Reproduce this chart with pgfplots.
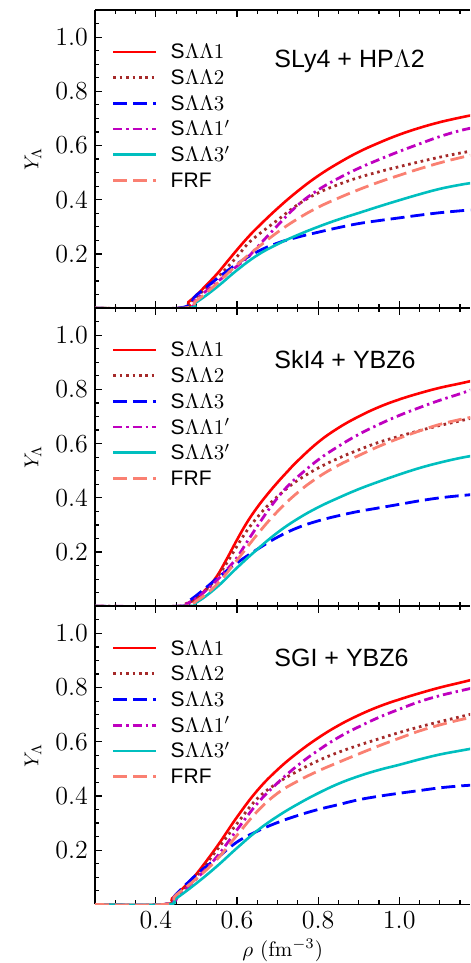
\RequirePackage{fix-cm}
\documentclass[border=0pt]{standalone}
\usepackage{fontspec}
\setsansfont{Liberation Sans}
\usepackage{pgfplots}
\pgfplotsset{compat=1.18}
\usepgfplotslibrary{groupplots}

\definecolor{cred}{rgb}{1,0,0}
\definecolor{cbrown}{HTML}{A52A2A}
\definecolor{cblue}{rgb}{0,0,1}
\definecolor{cmag}{rgb}{0.75,0,0.75}
\definecolor{ccyan}{rgb}{0,0.75,0.75}
\definecolor{csalmon}{HTML}{FA8072}

\pgfplotsset{
  s1/.style={cred, line width=1.3pt, smooth, tension=0.7},
  s2/.style={cbrown, line width=1.4pt, dash pattern=on 1.3pt off 1.9pt, smooth, tension=0.7},
  s3/.style={cblue, line width=1.4pt, dash pattern=on 7pt off 3pt, smooth, tension=0.7},
  s4/.style={cmag, line width=1.4pt, dash pattern=on 4.5pt off 2pt on 1.2pt off 2pt, smooth, tension=0.7},
  s5/.style={ccyan, line width=1.3pt, smooth, tension=0.7},
  s6/.style={csalmon, line width=1.4pt, dash pattern=on 7pt off 3pt, smooth, tension=0.7},
}
\newcommand{\legs}{\legend{\textsf{S}$\Lambda\Lambda1$,\textsf{S}$\Lambda\Lambda2$,\textsf{S}$\Lambda\Lambda3$,\textsf{S}$\Lambda\Lambda1'$,\textsf{S}$\Lambda\Lambda3'$,\textsf{FRF}}}

\begin{document}
\begin{tikzpicture}
\begin{groupplot}[
  group style={group size=1 by 3, vertical sep=0pt, x descriptions at=edge bottom},
  width=187.5pt, height=149pt, scale only axis,
  xmin=0.25, xmax=1.175, ymin=0, ymax=1.1,
  axis x line*=box, axis y line*=left,
  xtick={0.4,0.6,0.8,1.0},
  minor xtick={0.3,0.35,0.45,0.5,0.55,0.65,0.7,0.75,0.85,0.9,0.95,1.05,1.1,1.15},
  ytick={0.2,0.4,0.6,0.8,1.0},
  minor ytick={0.05,0.1,0.15,0.25,0.3,0.35,0.45,0.5,0.55,0.65,0.7,0.75,0.85,0.9,0.95,1.05},
  tick align=inside, major tick length=3.5pt, minor tick length=2pt,
  tick style={black, line width=0.6pt}, axis line style={black, line width=0.8pt},
  tick label style={font=\fontsize{13}{15}\selectfont},
  xticklabel style={/pgf/number format/.cd, fixed, fixed zerofill, precision=1},
  yticklabel style={/pgf/number format/.cd, fixed, fixed zerofill, precision=1},
  ylabel={$Y_\Lambda$},
  ylabel style={at={(axis description cs:-0.165,0.5)}, anchor=center, font=\fontsize{10}{12}\selectfont},
  xlabel={$\rho$ (fm$^{-3}$)},
  xlabel style={at={(axis description cs:0.5,-0.155)}, anchor=center, font=\fontsize{10.5}{12}\selectfont},
  legend image code/.code={\draw[#1] (0pt,0pt) -- (21.5pt,0pt);},
  legend cell align=left,
  legend style={at={(axis description cs:0.045,0.89)}, anchor=north west, draw=none, fill=none,
    inner sep=0pt, outer sep=0pt, font=\fontsize{10.5}{12}\selectfont, row sep=3.85pt,
    nodes={inner sep=0pt, text height=8pt, text depth=1pt},
    /tikz/every odd column/.append style={column sep=6.5pt}},
]
% ---- SLy4 + HPLambda2
\nextgroupplot
\coordinate (tl) at (rel axis cs:0,1);
\addplot[s1] coordinates {(0.25,0)(0.46,0)(0.48,0.022)(0.50,0.048)(0.52,0.078)(0.55,0.125)(0.575,0.17)(0.60,0.215)(0.625,0.258)(0.65,0.297)(0.70,0.368)(0.75,0.432)(0.80,0.488)(0.85,0.535)(0.90,0.576)(0.95,0.61)(1.00,0.64)(1.05,0.665)(1.10,0.686)(1.15,0.703)(1.18,0.712)};
\addplot[s2] coordinates {(0.25,0)(0.46,0)(0.48,0.018)(0.50,0.042)(0.55,0.11)(0.60,0.19)(0.625,0.235)(0.65,0.268)(0.70,0.325)(0.75,0.382)(0.80,0.425)(0.85,0.456)(0.90,0.482)(0.95,0.503)(1.00,0.522)(1.05,0.54)(1.10,0.557)(1.15,0.572)(1.18,0.58)};
\addplot[s3] coordinates {(0.25,0)(0.455,0)(0.50,0.048)(0.55,0.108)(0.60,0.163)(0.65,0.208)(0.70,0.24)(0.75,0.262)(0.80,0.28)(0.85,0.297)(0.90,0.312)(0.95,0.323)(1.00,0.333)(1.05,0.343)(1.10,0.352)(1.15,0.359)(1.18,0.363)};
\addplot[s4] coordinates {(0.25,0)(0.465,0)(0.50,0.035)(0.55,0.095)(0.60,0.155)(0.625,0.185)(0.65,0.225)(0.70,0.305)(0.75,0.38)(0.80,0.436)(0.85,0.479)(0.90,0.516)(0.95,0.548)(1.00,0.578)(1.05,0.606)(1.10,0.633)(1.15,0.655)(1.18,0.665)};
\addplot[s5] coordinates {(0.25,0)(0.47,0)(0.50,0.022)(0.55,0.077)(0.60,0.14)(0.65,0.195)(0.70,0.236)(0.75,0.27)(0.80,0.30)(0.85,0.327)(0.90,0.351)(0.95,0.375)(1.00,0.398)(1.05,0.42)(1.10,0.44)(1.15,0.455)(1.18,0.462)};
\addplot[s6] coordinates {(0.25,0)(0.465,0)(0.50,0.028)(0.55,0.09)(0.60,0.16)(0.65,0.222)(0.70,0.28)(0.75,0.33)(0.80,0.372)(0.85,0.406)(0.90,0.437)(0.95,0.465)(1.00,0.49)(1.05,0.514)(1.10,0.536)(1.15,0.555)(1.18,0.565)};
\legs
\node[anchor=west, font=\sffamily\fontsize{12.5}{15}\selectfont] at (axis cs:0.675,0.91) {SLy4 + HP$\Lambda$2};
% ---- SkI4 + YBZ6
\nextgroupplot
\addplot[s1] coordinates {(0.25,0)(0.46,0)(0.475,0.008)(0.50,0.03)(0.525,0.065)(0.55,0.11)(0.575,0.175)(0.60,0.245)(0.625,0.31)(0.65,0.365)(0.675,0.413)(0.70,0.457)(0.725,0.498)(0.75,0.537)(0.80,0.605)(0.85,0.658)(0.90,0.70)(0.95,0.735)(1.00,0.763)(1.05,0.786)(1.10,0.806)(1.15,0.822)(1.18,0.832)};
\addplot[s2] coordinates {(0.25,0)(0.46,0)(0.475,0.01)(0.50,0.028)(0.525,0.062)(0.55,0.105)(0.575,0.16)(0.60,0.222)(0.625,0.28)(0.65,0.328)(0.675,0.37)(0.70,0.405)(0.725,0.437)(0.75,0.465)(0.80,0.51)(0.85,0.546)(0.90,0.577)(0.95,0.605)(1.00,0.627)(1.05,0.648)(1.10,0.667)(1.15,0.684)(1.18,0.695)};
\addplot[s3] coordinates {(0.25,0)(0.455,0)(0.48,0.018)(0.52,0.064)(0.55,0.102)(0.60,0.16)(0.65,0.21)(0.70,0.255)(0.75,0.29)(0.80,0.315)(0.85,0.334)(0.90,0.35)(0.95,0.363)(1.00,0.376)(1.05,0.389)(1.10,0.40)(1.15,0.408)(1.18,0.412)};
\addplot[s4] coordinates {(0.25,0)(0.465,0)(0.475,0.008)(0.50,0.03)(0.525,0.06)(0.55,0.095)(0.575,0.135)(0.60,0.18)(0.625,0.238)(0.65,0.295)(0.675,0.35)(0.70,0.40)(0.725,0.443)(0.75,0.478)(0.80,0.54)(0.85,0.59)(0.90,0.634)(0.95,0.671)(1.00,0.704)(1.05,0.733)(1.10,0.76)(1.15,0.784)(1.18,0.80)};
\addplot[s5] coordinates {(0.25,0)(0.47,0)(0.50,0.014)(0.55,0.07)(0.60,0.142)(0.65,0.21)(0.70,0.272)(0.75,0.323)(0.80,0.365)(0.85,0.40)(0.90,0.432)(0.95,0.46)(1.00,0.486)(1.05,0.51)(1.10,0.53)(1.15,0.547)(1.18,0.555)};
\addplot[s6] coordinates {(0.25,0)(0.465,0)(0.50,0.02)(0.55,0.08)(0.60,0.17)(0.65,0.265)(0.70,0.35)(0.75,0.42)(0.80,0.476)(0.85,0.52)(0.90,0.556)(0.95,0.59)(1.00,0.62)(1.05,0.647)(1.10,0.671)(1.15,0.689)(1.18,0.698)};
\legs
\node[anchor=west, font=\sffamily\fontsize{12.5}{15}\selectfont] at (axis cs:0.675,0.91) {SkI4 + YBZ6};
% ---- SGI + YBZ6
\nextgroupplot
\coordinate (br) at (rel axis cs:1,0);
\addplot[s1] coordinates {(0.25,0)(0.42,0)(0.44,0.022)(0.46,0.05)(0.48,0.08)(0.50,0.112)(0.55,0.212)(0.60,0.322)(0.65,0.42)(0.70,0.497)(0.75,0.56)(0.80,0.614)(0.85,0.66)(0.90,0.698)(0.95,0.73)(1.00,0.756)(1.05,0.779)(1.10,0.80)(1.15,0.818)(1.18,0.829)};
\addplot[s2] coordinates {(0.25,0)(0.42,0)(0.46,0.045)(0.50,0.105)(0.55,0.20)(0.60,0.298)(0.65,0.39)(0.70,0.448)(0.75,0.492)(0.80,0.53)(0.85,0.561)(0.90,0.587)(0.95,0.611)(1.00,0.634)(1.05,0.655)(1.10,0.674)(1.15,0.692)(1.18,0.703)};
\addplot[s3] coordinates {(0.25,0)(0.42,0)(0.45,0.038)(0.50,0.11)(0.55,0.17)(0.60,0.23)(0.65,0.27)(0.70,0.302)(0.75,0.328)(0.80,0.35)(0.85,0.368)(0.90,0.386)(0.95,0.399)(1.00,0.41)(1.05,0.42)(1.10,0.43)(1.15,0.437)(1.18,0.44)};
\addplot[s4] coordinates {(0.25,0)(0.42,0)(0.46,0.04)(0.50,0.095)(0.55,0.175)(0.60,0.275)(0.65,0.372)(0.70,0.448)(0.75,0.513)(0.80,0.568)(0.85,0.616)(0.90,0.655)(0.95,0.69)(1.00,0.72)(1.05,0.748)(1.10,0.77)(1.15,0.788)(1.18,0.798)};
\addplot[s5] coordinates {(0.25,0)(0.425,0)(0.45,0.022)(0.50,0.078)(0.55,0.14)(0.60,0.208)(0.65,0.272)(0.70,0.325)(0.75,0.37)(0.80,0.41)(0.85,0.445)(0.90,0.473)(0.95,0.496)(1.00,0.515)(1.05,0.535)(1.10,0.553)(1.15,0.567)(1.18,0.575)};
\addplot[s6] coordinates {(0.25,0)(0.42,0)(0.45,0.035)(0.50,0.095)(0.55,0.165)(0.60,0.255)(0.65,0.343)(0.70,0.41)(0.75,0.455)(0.80,0.492)(0.85,0.524)(0.90,0.555)(0.95,0.585)(1.00,0.613)(1.05,0.64)(1.10,0.662)(1.15,0.681)(1.18,0.69)};
\legs
\node[anchor=west, font=\sffamily\fontsize{12.5}{15}\selectfont] at (axis cs:0.675,0.91) {SGI + YBZ6};
\end{groupplot}
\pgfresetboundingbox
\path ([xshift=-47.5pt,yshift=5pt]tl) rectangle ([yshift=-29.3pt]br);
\end{tikzpicture}
\end{document}
